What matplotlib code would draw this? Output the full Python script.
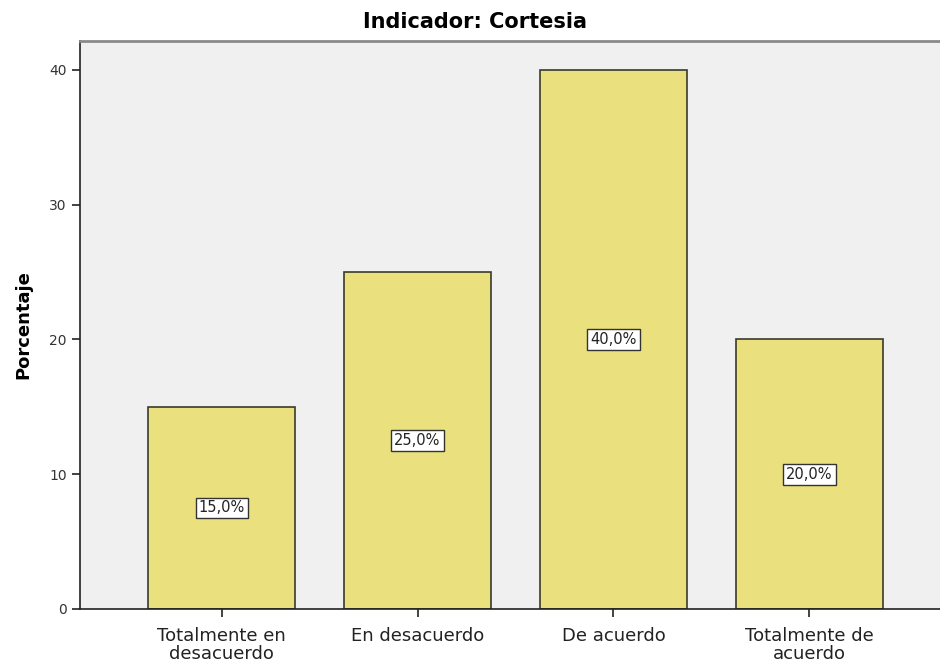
import matplotlib.pyplot as plt

categories = ["Totalmente en\ndesacuerdo", "En desacuerdo", "De acuerdo", "Totalmente de\nacuerdo"]
porcentajes = [15.0, 25.0, 40.0, 20.0]
yticks = [0, 10, 20, 30, 40]

fig = plt.figure(figsize=(9.4, 6.64), dpi=100)
ax = fig.add_axes([80 / 940, 55 / 664, 1 - 80 / 940, 568 / 664])
ax.set_facecolor('#F0F0F0')

x = list(range(len(categories)))
ax.bar(x, porcentajes, width=0.75, color='#EBE07E', edgecolor='#3A3A2A', linewidth=1.2, zorder=2)

for xi, v in zip(x, porcentajes):
    ax.text(xi, v / 2, f"{v:.1f}%".replace('.', ','), ha='center', va='center', fontsize=10.5,
            color='#222222',
            bbox=dict(boxstyle='square,pad=0.2', facecolor='white', edgecolor='#333333', linewidth=1.0),
            zorder=3)

ax.set_xlim(-0.723, 3.667)
ax.set_ylim(0, 42.15)
ax.set_xticks(x)
ax.set_xticklabels(categories, fontsize=13, color='#222222', linespacing=1.0)
ax.set_yticks(yticks)
ax.set_yticklabels([str(t) for t in yticks], fontsize=10, color='#333333')
ax.tick_params(axis='both', direction='out', length=6, width=1.2, color='#222222')
ax.tick_params(axis='x', pad=7)

ax.spines['right'].set_visible(False)
ax.spines['top'].set_color('#8A8A8A')
ax.spines['top'].set_linewidth(2)
ax.spines['left'].set_color('#222222')
ax.spines['left'].set_linewidth(1.2)
ax.spines['bottom'].set_color('#222222')
ax.spines['bottom'].set_linewidth(1.2)

ax.set_ylabel('Porcentaje', fontsize=13, fontweight='bold', labelpad=12)
fig.text(475 / 940, 1 - 22 / 664, 'Indicador: Cortesia', fontsize=15, fontweight='bold',
         ha='center', va='center')

fig.savefig('out.png', dpi=100)
